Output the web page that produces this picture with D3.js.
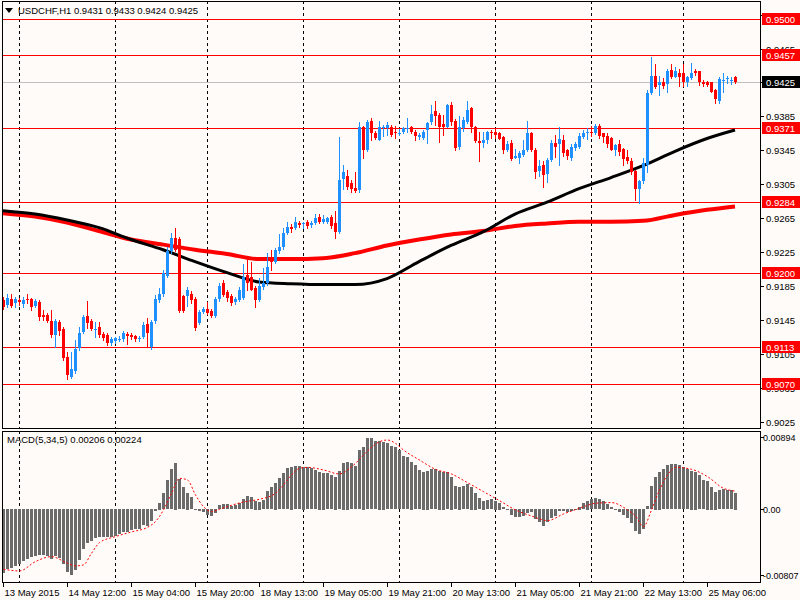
<!DOCTYPE html>
<html>
<head>
<meta charset="utf-8">
<script src="https://cdn.jsdelivr.net/npm/d3@7"></script>
<style>
  body { margin: 0; background: #fffbf9; }
</style>
</head>
<body>
<div id="chart"></div>
<script>
// USDCHF H1, 184 bars, 13 May 2015 20:00 .. 25 May 2015 13:00
const opens = [
  0.9169,0.9163,0.9170,0.9165,0.9169,0.9164,0.9170,0.9170,0.9162,0.9167,
  0.9151,0.9151,0.9144,0.9128,0.9143,0.9135,0.9102,0.9078,0.9085,0.9112,
  0.9131,0.9150,0.9144,0.9134,0.9137,0.9129,0.9127,0.9118,0.9121,0.9122,
  0.9123,0.9129,0.9128,0.9126,0.9123,0.9125,0.9141,0.9114,0.9144,0.9169,
  0.9176,0.9197,0.9226,0.9242,0.9241,0.9173,0.9173,0.9176,0.9170,0.9142,
  0.9155,0.9158,0.9156,0.9150,0.9170,0.9189,0.9178,0.9174,0.9166,0.9169,
  0.9171,0.9198,0.9196,0.9183,0.9169,0.9184,0.9189,0.9220,0.9214,0.9226,
  0.9231,0.9248,0.9255,0.9254,0.9259,0.9258,0.9261,0.9257,0.9259,0.9267,
  0.9261,0.9261,0.9267,0.9260,0.9249,0.9311,0.9315,0.9307,0.9301,0.9298,
  0.9372,0.9346,0.9380,0.9365,0.9357,0.9371,0.9371,0.9373,0.9367,0.9365,
  0.9367,0.9370,0.9372,0.9367,0.9361,0.9360,0.9369,0.9378,0.9391,0.9387,
  0.9376,0.9373,0.9399,0.9380,0.9349,0.9371,0.9379,0.9395,0.9372,0.9356,
  0.9354,0.9357,0.9367,0.9367,0.9366,0.9361,0.9346,0.9354,0.9336,0.9336,
  0.9340,0.9345,0.9366,0.9346,0.9321,0.9328,0.9317,0.9334,0.9354,0.9352,
  0.9357,0.9345,0.9336,0.9348,0.9349,0.9361,0.9366,0.9367,0.9366,0.9374,
  0.9365,0.9362,0.9360,0.9345,0.9353,0.9347,0.9337,0.9333,0.9321,0.9300,
  0.9309,0.9328,0.9413,0.9433,0.9422,0.9426,0.9423,0.9440,0.9432,0.9436,
  0.9436,0.9426,0.9430,0.9439,0.9438,0.9426,0.9426,0.9425,0.9416,0.9403,
  0.9427,0.9429,0.9427,0.9431
];
const highs = [
  0.9172,0.9176,0.9176,0.9172,0.9171,0.9172,0.9176,0.9171,0.9170,0.9169,
  0.9157,0.9153,0.9157,0.9146,0.9145,0.9137,0.9108,0.9108,0.9122,0.9137,
  0.9151,0.9168,0.9146,0.9143,0.9143,0.9131,0.9130,0.9125,0.9125,0.9126,
  0.9132,0.9131,0.9130,0.9128,0.9126,0.9143,0.9148,0.9145,0.9175,0.9183,
  0.9204,0.9231,0.9248,0.9254,0.9243,0.9175,0.9184,0.9179,0.9172,0.9157,
  0.9161,0.9167,0.9158,0.9172,0.9189,0.9192,0.9180,0.9176,0.9172,0.9184,
  0.9211,0.9217,0.9214,0.9185,0.9195,0.9207,0.9224,0.9228,0.9230,0.9246,
  0.9254,0.9261,0.9258,0.9266,0.9262,0.9261,0.9263,0.9262,0.9270,0.9270,
  0.9269,0.9267,0.9269,0.9274,0.9361,0.9328,0.9322,0.9310,0.9320,0.9379,
  0.9374,0.9381,0.9383,0.9368,0.9380,0.9375,0.9378,0.9375,0.9374,0.9370,
  0.9373,0.9383,0.9374,0.9369,0.9366,0.9369,0.9379,0.9398,0.9403,0.9389,
  0.9387,0.9400,0.9402,0.9382,0.9385,0.9384,0.9403,0.9396,0.9374,0.9367,
  0.9367,0.9368,0.9369,0.9370,0.9367,0.9362,0.9356,0.9357,0.9347,0.9344,
  0.9357,0.9380,0.9367,0.9348,0.9334,0.9332,0.9336,0.9357,0.9363,0.9373,
  0.9363,0.9347,0.9352,0.9355,0.9365,0.9369,0.9371,0.9374,0.9376,0.9376,
  0.9366,0.9366,0.9361,0.9353,0.9357,0.9348,0.9345,0.9336,0.9322,0.9310,
  0.9336,0.9416,0.9455,0.9447,0.9433,0.9430,0.9441,0.9447,0.9443,0.9441,
  0.9447,0.9433,0.9448,0.9441,0.9439,0.9428,0.9427,0.9426,0.9417,0.9432,
  0.9436,0.9433,0.9432,0.9433
];
const lows = [
  0.9158,0.9160,0.9160,0.9161,0.9163,0.9160,0.9165,0.9157,0.9160,0.9145,
  0.9145,0.9143,0.9125,0.9114,0.9127,0.9098,0.9076,0.9077,0.9083,0.9110,
  0.9130,0.9136,0.9134,0.9125,0.9125,0.9122,0.9116,0.9116,0.9118,0.9121,
  0.9121,0.9117,0.9123,0.9121,0.9120,0.9124,0.9114,0.9111,0.9142,0.9167,
  0.9174,0.9196,0.9224,0.9226,0.9155,0.9155,0.9162,0.9165,0.9134,0.9140,
  0.9153,0.9152,0.9149,0.9149,0.9168,0.9173,0.9168,0.9163,0.9164,0.9168,
  0.9170,0.9181,0.9180,0.9160,0.9168,0.9182,0.9187,0.9204,0.9212,0.9224,
  0.9229,0.9246,0.9249,0.9252,0.9255,0.9254,0.9254,0.9255,0.9258,0.9259,
  0.9259,0.9259,0.9254,0.9242,0.9248,0.9300,0.9300,0.9296,0.9296,0.9296,
  0.9336,0.9344,0.9357,0.9359,0.9357,0.9362,0.9363,0.9362,0.9360,0.9363,
  0.9366,0.9367,0.9365,0.9357,0.9359,0.9358,0.9354,0.9376,0.9375,0.9355,
  0.9363,0.9372,0.9375,0.9346,0.9347,0.9368,0.9377,0.9367,0.9355,0.9333,
  0.9349,0.9354,0.9360,0.9360,0.9358,0.9342,0.9344,0.9334,0.9336,0.9330,
  0.9339,0.9344,0.9344,0.9313,0.9315,0.9302,0.9308,0.9332,0.9337,0.9328,
  0.9338,0.9335,0.9334,0.9346,0.9348,0.9360,0.9359,0.9362,0.9364,0.9360,
  0.9355,0.9349,0.9345,0.9340,0.9340,0.9328,0.9330,0.9317,0.9287,0.9283,
  0.9307,0.9319,0.9412,0.9419,0.9410,0.9419,0.9414,0.9430,0.9431,0.9421,
  0.9421,0.9421,0.9429,0.9434,0.9422,0.9421,0.9421,0.9414,0.9401,0.9401,
  0.9414,0.9424,0.9423,0.9424
];
const closes = [
  0.9161,0.9171,0.9162,0.9170,0.9166,0.9169,0.9169,0.9160,0.9168,0.9149,
  0.9149,0.9144,0.9128,0.9144,0.9132,0.9100,0.9081,0.9087,0.9111,0.9130,
  0.9149,0.9142,0.9135,0.9135,0.9127,0.9124,0.9118,0.9123,0.9124,0.9123,
  0.9130,0.9126,0.9125,0.9123,0.9124,0.9139,0.9130,0.9143,0.9170,0.9176,
  0.9200,0.9226,0.9242,0.9228,0.9156,0.9156,0.9181,0.9169,0.9136,0.9155,
  0.9158,0.9154,0.9150,0.9170,0.9185,0.9175,0.9171,0.9165,0.9170,0.9181,
  0.9196,0.9189,0.9181,0.9169,0.9185,0.9189,0.9208,0.9214,0.9228,0.9231,
  0.9248,0.9255,0.9252,0.9261,0.9257,0.9259,0.9256,0.9260,0.9265,0.9261,
  0.9264,0.9265,0.9256,0.9249,0.9310,0.9319,0.9302,0.9299,0.9297,0.9372,
  0.9346,0.9379,0.9366,0.9360,0.9373,0.9372,0.9375,0.9363,0.9365,0.9366,
  0.9371,0.9371,0.9367,0.9362,0.9363,0.9367,0.9377,0.9388,0.9386,0.9373,
  0.9373,0.9398,0.9379,0.9348,0.9372,0.9381,0.9393,0.9372,0.9356,0.9354,
  0.9357,0.9367,0.9366,0.9363,0.9359,0.9346,0.9352,0.9335,0.9338,0.9342,
  0.9346,0.9366,0.9346,0.9320,0.9327,0.9316,0.9334,0.9354,0.9349,0.9358,
  0.9342,0.9338,0.9349,0.9353,0.9362,0.9366,0.9367,0.9366,0.9374,0.9362,
  0.9361,0.9352,0.9346,0.9351,0.9343,0.9335,0.9333,0.9319,0.9299,0.9309,
  0.9330,0.9413,0.9433,0.9420,0.9426,0.9421,0.9439,0.9432,0.9438,0.9432,
  0.9425,0.9432,0.9436,0.9436,0.9425,0.9423,0.9422,0.9414,0.9405,0.9429,
  0.9428,0.9430,0.9428,0.9425
];

// moving averages, read every 8 bars
const maBars = [0,8,16,24,32,40,48,56,64,72,80,88,96,104,112,120,128,136,144,152,160,168,176,183];
const blackMA = [0.9274,0.9270,0.9263,0.9254,0.9240,0.9228,0.9214,0.9201,0.9190,0.9188,0.9187,0.9187,
                 0.9194,0.9214,0.9233,0.9249,0.9270,0.9284,0.9300,0.9313,0.9327,0.9344,0.9359,0.9369];
const redMA = [0.9271,0.9267,0.9260,0.9250,0.9240,0.9234,0.9228,0.9223,0.9217,0.9217,0.9218,0.9224,
               0.9233,0.9240,0.9246,0.9250,0.9256,0.9259,0.9261,0.9261,0.9262,0.9269,0.9275,0.9279];

// MACD(5,34,5) histogram, one per bar
const macdHist = [
  -0.00785,-0.00736,-0.00720,-0.00703,-0.00671,-0.00642,-0.00614,-0.00593,-0.00581,-0.00569,
  -0.00569,-0.00573,-0.00614,-0.00581,-0.00601,-0.00671,-0.00777,-0.00806,-0.00744,-0.00630,
  -0.00491,-0.00417,-0.00397,-0.00356,-0.00348,-0.00348,-0.00348,-0.00344,-0.00327,-0.00303,
  -0.00286,-0.00278,-0.00254,-0.00245,-0.00245,-0.00192,-0.00213,-0.00151,-0.00029,0.00082,
  0.00196,0.00360,0.00491,0.00573,0.00368,0.00270,0.00205,0.00147,0.00005,-0.00020,
  -0.00033,-0.00070,-0.00082,-0.00049,0.00053,0.00065,0.00065,0.00041,0.00053,0.00074,
  0.00123,0.00164,0.00147,0.00106,0.00094,0.00115,0.00225,0.00270,0.00327,0.00380,
  0.00442,0.00503,0.00524,0.00532,0.00532,0.00524,0.00515,0.00503,0.00483,0.00462,
  0.00450,0.00442,0.00421,0.00401,0.00470,0.00573,0.00585,0.00564,0.00532,0.00728,
  0.00769,0.00871,0.00875,0.00838,0.00843,0.00830,0.00810,0.00777,0.00761,0.00728,
  0.00654,0.00638,0.00585,0.00544,0.00483,0.00462,0.00474,0.00491,0.00491,0.00474,
  0.00462,0.00458,0.00401,0.00286,0.00278,0.00286,0.00311,0.00278,0.00205,0.00135,
  0.00106,0.00115,0.00123,0.00106,0.00082,0.00025,-0.00005,-0.00070,-0.00098,-0.00102,
  -0.00082,-0.00049,-0.00041,-0.00123,-0.00164,-0.00205,-0.00164,-0.00110,-0.00082,-0.00029,
  -0.00020,-0.00041,-0.00029,-0.00008,0.00033,0.00074,0.00106,0.00123,0.00135,0.00123,
  0.00106,0.00061,0.00025,-0.00016,-0.00041,-0.00070,-0.00110,-0.00172,-0.00274,-0.00303,
  -0.00245,0.00041,0.00286,0.00401,0.00462,0.00491,0.00544,0.00556,0.00556,0.00544,
  0.00515,0.00491,0.00474,0.00462,0.00421,0.00360,0.00352,0.00278,0.00217,0.00237,
  0.00245,0.00237,0.00237,0.00206
];
const signalBars = [0,4,8,12,16,18,20,22,24,28,32,36,38,40,42,44,46,48,50,52,54,56,60,64,68,70,72,74,76,80,
                    84,86,88,90,92,94,96,98,100,104,108,112,116,120,124,128,132,136,140,144,148,152,156,158,
                    160,162,164,166,168,172,176,180,183];
const signalVals = [-0.00736,-0.00757,-0.00642,-0.00581,-0.00663,-0.00695,-0.00683,-0.00540,-0.00409,-0.00335,
                    -0.00278,-0.00221,-0.00151,-0.00008,0.00196,0.00380,0.00360,0.00176,0.00033,-0.00029,
                    0.00000,0.00033,0.00090,0.00123,0.00196,0.00299,0.00421,0.00503,0.00515,0.00483,
                    0.00434,0.00483,0.00564,0.00667,0.00761,0.00830,0.00851,0.00810,0.00728,0.00605,
                    0.00491,0.00434,0.00327,0.00217,0.00106,-0.00008,-0.00082,-0.00139,-0.00057,0.00012,
                    0.00074,0.00082,-0.00008,-0.00082,-0.00213,-0.00008,0.00237,0.00421,0.00515,0.00491,
                    0.00401,0.00258,0.00224];

const priceTicks = [0.9505,0.9465,0.9425,0.9385,0.9345,0.9305,0.9265,0.9225,0.9185,0.9145,0.9105,0.9065,0.9025];
const levels = [0.9500,0.9457,0.9371,0.9284,0.9200,0.9113,0.9070];
const macdTicks = [0.00894, 0, -0.00807];
const macdTickLabels = ["0.00894", "0.00", "-0.00807"];
const dayBars = [4,28,51,75,99,123,147,170];
const timeTickBars = [0,16,32,48,64,80,96,112,128,144,160,176];
const timeTickLabels = ["13 May 2015","14 May 12:00","15 May 04:00","15 May 20:00","18 May 13:00","19 May 05:00",
                        "19 May 21:00","20 May 13:00","21 May 05:00","21 May 21:00","22 May 13:00","25 May 06:00"];

const W = 800, H = 600;
const left = 2, right = 760;
const mainTop = 1, mainBottom = 428, macdTop = 431, macdBottom = 582;
const bull = "#1e90ff", bear = "#ff0000";

const svg = d3.select("#chart").append("svg")
    .attr("width", W)
    .attr("height", H)
    .style("font-family", "'Liberation Sans', Arial, sans-serif")
    .style("font-size", "9.5px");

svg.append("rect").attr("width", W).attr("height", H).attr("fill", "#fffbf9");

const x = d3.scaleLinear().domain([0, 183]).range([3, 735]);
const yMain = d3.scaleLinear().domain([0.9018, 0.9521]).range([mainBottom, mainTop]);
const yMacd = d3.scaleLinear().domain([-0.00807, 0.00894]).range([575, 436.5]);
const px = i => Math.round(x(i));

svg.append("clipPath").attr("id", "clipMain").append("rect")
    .attr("x", left).attr("y", mainTop).attr("width", right - left).attr("height", mainBottom - mainTop);
svg.append("clipPath").attr("id", "clipMacd").append("rect")
    .attr("x", left).attr("y", macdTop).attr("width", right - left).attr("height", macdBottom - macdTop);

const gMain = svg.append("g").attr("clip-path", "url(#clipMain)");
const gMacd = svg.append("g").attr("clip-path", "url(#clipMacd)");

// day separators
[[gMain, mainTop, mainBottom], [gMacd, macdTop, macdBottom]].forEach(([g, y0, y1]) => {
  g.selectAll(".day").data(dayBars).join("line")
      .attr("x1", d => px(d) + 0.5).attr("x2", d => px(d) + 0.5)
      .attr("y1", y0).attr("y2", y1)
      .attr("stroke", "#000").attr("stroke-dasharray", "3,3");
});

// horizontal levels
gMain.selectAll(".level").data(levels).join("line")
    .attr("x1", left).attr("x2", right)
    .attr("y1", d => Math.round(yMain(d)) + 0.5).attr("y2", d => Math.round(yMain(d)) + 0.5)
    .attr("stroke", "#ff0000");

const last = closes[closes.length - 1];
gMain.append("line")
    .attr("x1", left).attr("x2", right)
    .attr("y1", Math.round(yMain(last)) + 0.5).attr("y2", Math.round(yMain(last)) + 0.5)
    .attr("stroke", "#c0c0c0");

// moving averages
const maLine = vals => d3.line()
    .x((d, k) => x(maBars[k]))
    .y(d => yMain(d))
    .curve(d3.curveMonotoneX)(vals);

gMain.append("path").attr("d", maLine(redMA))
    .attr("fill", "none").attr("stroke", "#ff0000").attr("stroke-width", 4);
gMain.append("path").attr("d", maLine(blackMA))
    .attr("fill", "none").attr("stroke", "#000").attr("stroke-width", 3);

// candles
const bars = d3.range(closes.length);
const candle = gMain.selectAll(".candle").data(bars).join("g").attr("shape-rendering", "crispEdges");
candle.append("line")
    .attr("x1", i => px(i) + 0.5).attr("x2", i => px(i) + 0.5)
    .attr("y1", i => Math.round(yMain(highs[i])))
    .attr("y2", i => Math.round(yMain(lows[i])) + 1)
    .attr("stroke", i => closes[i] >= opens[i] ? bull : bear);
candle.append("rect")
    .attr("x", i => px(i) - 1)
    .attr("width", 3)
    .attr("y", i => Math.round(yMain(Math.max(opens[i], closes[i]))))
    .attr("height", i => Math.max(1, Math.round(yMain(Math.min(opens[i], closes[i]))) - Math.round(yMain(Math.max(opens[i], closes[i])))))
    .attr("fill", i => closes[i] >= opens[i] ? bull : bear);

// MACD histogram
gMacd.selectAll(".hist").data(bars).join("rect")
    .attr("shape-rendering", "crispEdges")
    .attr("x", i => px(i) - 1)
    .attr("width", 3)
    .attr("y", i => Math.round(Math.min(yMacd(0), yMacd(macdHist[i]))))
    .attr("height", i => Math.max(1, Math.round(Math.abs(yMacd(macdHist[i]) - yMacd(0)))))
    .attr("fill", "#6b6b6b");

gMacd.append("path")
    .attr("d", d3.line().x((d, k) => x(signalBars[k]) + 0.5).y(d => yMacd(d)).curve(d3.curveMonotoneX)(signalVals))
    .attr("fill", "none").attr("stroke", "#ff0000").attr("stroke-width", 1).attr("stroke-dasharray", "2,2");

// panel frames
[[mainTop, mainBottom], [macdTop, macdBottom]].forEach(([y0, y1]) => {
  svg.append("rect")
      .attr("x", left + 0.5).attr("y", y0 + 0.5)
      .attr("width", right - left).attr("height", y1 - y0)
      .attr("fill", "none").attr("stroke", "#000");
});

// price axis
const axisG = svg.append("g");
axisG.selectAll(".pt").data(priceTicks).join("g").each(function(d) {
  const yy = Math.round(yMain(d)) + 0.5;
  const g = d3.select(this);
  g.append("line").attr("x1", right).attr("x2", right + 4).attr("y1", yy).attr("y2", yy).attr("stroke", "#000");
  g.append("text").attr("x", 766).attr("y", yy + 3.5).attr("fill", "#000").text(d.toFixed(4));
});

const tag = (value, fill) => {
  const yy = Math.round(yMain(value));
  axisG.append("rect").attr("x", 762).attr("y", yy - 6).attr("width", 38).attr("height", 12).attr("fill", fill);
  axisG.append("text").attr("x", 766).attr("y", yy + 4).attr("fill", "#fff").text(value.toFixed(4));
};
levels.forEach(v => tag(v, "#ff0000"));
tag(last, "#000");

// MACD axis
macdTicks.forEach((v, k) => {
  const yy = Math.round(yMacd(v)) + 0.5;
  axisG.append("line").attr("x1", right).attr("x2", right + 4).attr("y1", yy).attr("y2", yy).attr("stroke", "#000");
  axisG.append("text").attr("x", 763).attr("y", yy + 3.5).attr("fill", "#000")
      .style("font-size", "9px").text(macdTickLabels[k]);
});

// time axis
timeTickBars.forEach((b, k) => {
  const xx = px(b) + 0.5;
  axisG.append("line").attr("x1", xx).attr("x2", xx).attr("y1", macdBottom).attr("y2", macdBottom + 5).attr("stroke", "#000");
  axisG.append("text").attr("x", xx + 1).attr("y", 596).attr("fill", "#000").text(timeTickLabels[k]);
});

// titles
svg.append("path").attr("d", "M5,8 L13,8 L9,13 Z").attr("fill", "#000");
svg.append("text").attr("x", 18).attr("y", 14).attr("fill", "#000")
    .text("USDCHF,H1  " + [opens, highs, lows, closes].map(a => a[a.length - 1].toFixed(4)).join(" "));
svg.append("text").attr("x", 7).attr("y", 443).attr("fill", "#000")
    .text("MACD(5,34,5) " + macdHist[macdHist.length - 1].toFixed(5) + " " + signalVals[signalVals.length - 1].toFixed(5));
</script>
</body>
</html>
